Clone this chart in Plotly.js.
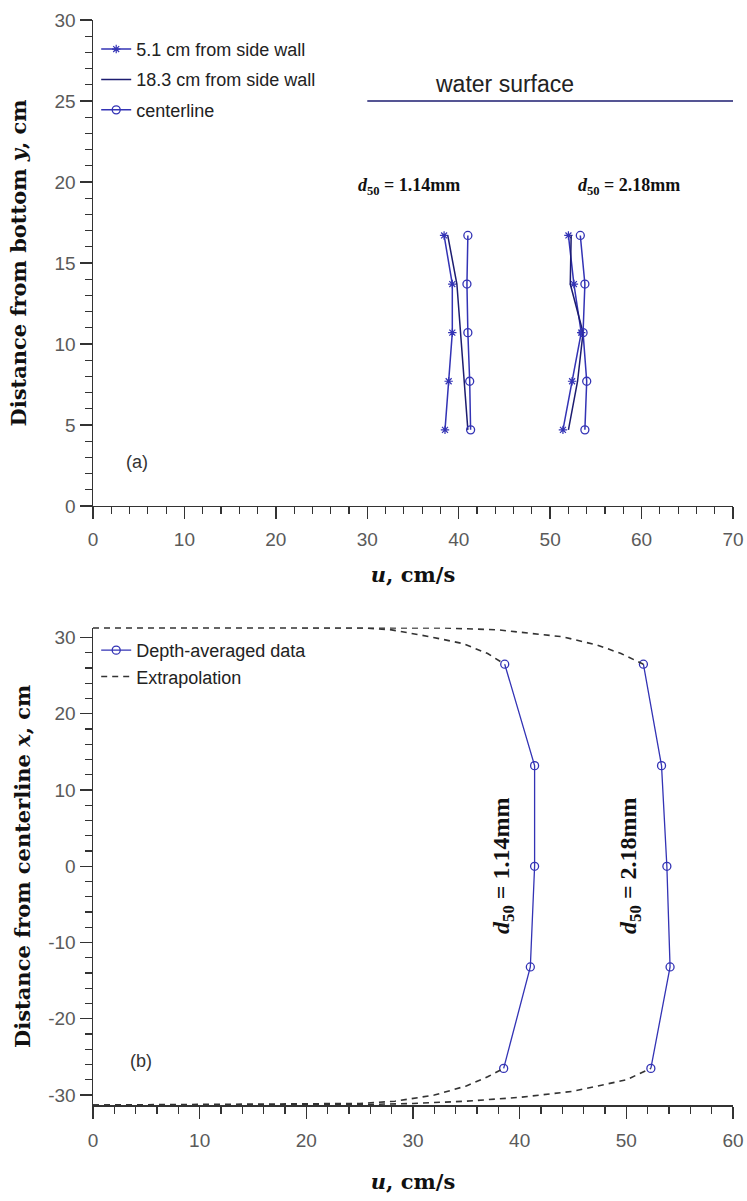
<!DOCTYPE html>
<html>
<head>
<meta charset="utf-8">
<script src="https://cdn.plot.ly/plotly-3.0.1.min.js"></script>
<style>html,body{margin:0;padding:0;background:#fff;}#chart{width:747px;height:1201px;}</style>
</head>
<body>
<div id="chart"></div>
<script>
// ---------- Panel (a): velocity profiles ----------
const depthY = [4.7, 7.7, 10.7, 13.7, 16.7];
// d50 = 1.14 mm
const u114_wall51 = [38.5, 38.9, 39.3, 39.3, 38.4];
const u114_wall183 = [41.0, 40.6, 40.2, 39.8, 38.8];
const u114_center = [41.3, 41.2, 41.0, 40.9, 41.0];
// d50 = 2.18 mm
const u218_wall51 = [51.4, 52.4, 53.4, 52.6, 52.0];
const u218_wall183 = [52.0, 53.0, 53.6, 52.2, 52.3];
const u218_center = [53.8, 54.0, 53.6, 53.8, 53.3];
const waterSurfaceY = 25;
const waterSurfaceX = [30, 70];

// ---------- Panel (b): lateral distribution ----------
const lateralX = [26.5, 13.2, 0, -13.2, -26.5];
const uAvg114 = [38.6, 41.4, 41.4, 41.0, 38.5];
const uAvg218 = [51.6, 53.3, 53.8, 54.1, 52.3];
// extrapolation curves (u, x)
const ext114TopU = [0, 25, 28, 31.6, 34.7, 37.0, 38.6];
const ext114TopX = [31.3, 31.3, 31.0, 30.1, 29.2, 27.9, 26.5];
const ext114BotU = [0, 25, 28.3, 32, 35, 37, 38.5];
const ext114BotX = [-31.3, -31.1, -30.8, -30.0, -28.8, -27.6, -26.5];
const ext218TopU = [0, 25, 33, 38, 44, 47.3, 49.5, 51.6];
const ext218TopX = [31.3, 31.3, 31.25, 31.0, 30.1, 29.0, 27.9, 26.5];
const ext218BotU = [0, 25, 30, 35, 40, 45, 50, 52.3];
const ext218BotX = [-31.3, -31.25, -31.1, -30.8, -30.3, -29.5, -28.0, -26.5];

// tick labels
const yTicksA = [0, 5, 10, 15, 20, 25, 30];
const yTicksB = [-30, -20, -10, 0, 10, 20, 30];
const yTickTextB = ['-30', '-20', '-10', '0', '10', '20', '30'];

const blue = '#3333b5';
const tickFont = {family: 'Liberation Sans, Arial, sans-serif', size: 19, color: '#5a5a5a'};
const titleFont = {family: 'DejaVu Serif, Liberation Serif, serif', size: 21, color: '#111', weight: 'bold'};
const annFont = {family: 'Liberation Serif, DejaVu Serif, serif', size: 18, color: '#111', weight: 'bold'};
const annFontRot = {family: 'Liberation Serif, DejaVu Serif, serif', size: 24, color: '#111', weight: 'bold'};
const legFont = {family: 'Liberation Sans, Arial, sans-serif', size: 18, color: '#222'};

function star(x, y, show) {
  return {x: x, y: y, xaxis: 'x', yaxis: 'y', type: 'scatter', mode: 'lines+markers',
    name: '5.1 cm from side wall', legendgroup: 'a1', showlegend: show, legend: 'legend',
    line: {color: blue, width: 1.5}, marker: {symbol: 'asterisk-open', size: 7, color: blue, line: {color: blue, width: 1.2}}};
}
function plain(x, y, show) {
  return {x: x, y: y, xaxis: 'x', yaxis: 'y', type: 'scatter', mode: 'lines',
    name: '18.3 cm from side wall', legendgroup: 'a2', showlegend: show, legend: 'legend',
    line: {color: '#1c1c70', width: 1.5}};
}
function circ(x, y, show) {
  return {x: x, y: y, xaxis: 'x', yaxis: 'y', type: 'scatter', mode: 'lines+markers',
    name: 'centerline', legendgroup: 'a3', showlegend: show, legend: 'legend',
    line: {color: blue, width: 1.5}, marker: {symbol: 'circle-open', size: 8, color: blue, line: {color: blue, width: 1.3}}};
}
function avg(x, y, show) {
  return {x: x, y: y, xaxis: 'x2', yaxis: 'y2', type: 'scatter', mode: 'lines+markers',
    name: 'Depth-averaged data', legendgroup: 'b1', showlegend: show, legend: 'legend2',
    line: {color: blue, width: 1.3}, marker: {symbol: 'circle-open', size: 8, color: blue, line: {color: blue, width: 1.3}}};
}
function ext(x, y, show) {
  return {x: x, y: y, xaxis: 'x2', yaxis: 'y2', type: 'scatter', mode: 'lines',
    name: 'Extrapolation', legendgroup: 'b2', showlegend: show, legend: 'legend2',
    line: {color: '#333', width: 1.6, dash: '6px,5px'}};
}

const data = [
  star(u114_wall51, depthY, true), plain(u114_wall183, depthY, true), circ(u114_center, depthY, true),
  star(u218_wall51, depthY, false), plain(u218_wall183, depthY, false), circ(u218_center, depthY, false),
  {x: waterSurfaceX, y: [waterSurfaceY, waterSurfaceY], xaxis: 'x', yaxis: 'y', mode: 'lines', showlegend: false,
   line: {color: '#1c1c70', width: 1.5}},
  avg(uAvg114, lateralX, true), avg(uAvg218, lateralX, false),
  ext(ext114TopU, ext114TopX, true), ext(ext114BotU, ext114BotX, false),
  ext(ext218TopU, ext218TopX, false), ext(ext218BotU, ext218BotX, false)
];

const minorSpec = (d) => ({dtick: d, ticklen: 7, ticks: 'outside', tickcolor: '#333', tickwidth: 1.2});
const axBase = {
  showgrid: false, zeroline: false, showline: true, linecolor: '#333', linewidth: 1.5,
  ticks: 'outside', ticklen: 12, tickwidth: 1.3, tickcolor: '#333', tickfont: tickFont, mirror: false
};

const layout = {
  width: 747, height: 1201,
  margin: {l: 93, r: 14, t: 20, b: 96},
  paper_bgcolor: '#fff', plot_bgcolor: '#fff',
  showlegend: true,
  xaxis: Object.assign({}, axBase, {anchor: 'y', range: [0, 70], dtick: 10, tick0: 0, minor: minorSpec(2),
    ticklabelstandoff: 4,
    title: {text: '<i>u</i>, cm/s', font: titleFont, standoff: 18}}),
  yaxis: Object.assign({}, axBase, {domain: [0.5521, 1], anchor: 'x', range: [0, 30], tickvals: yTicksA, minor: minorSpec(1),
    title: {text: 'Distance from bottom <i>y</i>, cm', font: titleFont, standoff: 22}}),
  xaxis2: Object.assign({}, axBase, {anchor: 'y2', range: [0, 60], dtick: 10, tick0: 0, minor: minorSpec(2),
    ticklabelstandoff: 6,
    title: {text: '<i>u</i>, cm/s', font: titleFont, standoff: 24}}),
  yaxis2: Object.assign({}, axBase, {domain: [0, 0.440], anchor: 'x2', range: [-31.3, 31.3],
    tickvals: yTicksB, ticktext: yTickTextB, minor: minorSpec(2),
    title: {text: 'Distance from centerline <i>x</i>, cm', font: titleFont, standoff: 12}}),
  legend: {x: 0.005, y: 0.99, xref: 'paper', yref: 'paper', xanchor: 'left', yanchor: 'top',
    bgcolor: 'rgba(0,0,0,0)', font: legFont, itemwidth: 30, tracegroupgap: 4},
  legend2: {x: 0.005, y: 0.436, xref: 'paper', yref: 'paper', xanchor: 'left', yanchor: 'top',
    bgcolor: 'rgba(0,0,0,0)', font: legFont, itemwidth: 30, tracegroupgap: 0},
  annotations: [
    {xref: 'x', yref: 'y', x: 45, y: 25.1, yanchor: 'bottom', text: 'water surface', showarrow: false,
     font: {family: 'Liberation Sans, Arial, sans-serif', size: 23, color: '#222'}},
    {xref: 'x', yref: 'y', x: 34.6, y: 19.7, text: '<i>d</i><sub>50</sub> = 1.14mm', showarrow: false, font: annFont},
    {xref: 'x', yref: 'y', x: 58.6, y: 19.7, text: '<i>d</i><sub>50</sub> = 2.18mm', showarrow: false, font: annFont},
    {xref: 'x', yref: 'y', x: 4.8, y: 2.7, text: '(a)', showarrow: false, font: {family: 'Liberation Sans, Arial, sans-serif', size: 18, color: '#333'}},
    {xref: 'x2', yref: 'y2', x: 38.5, y: 0, text: '<i>d</i><sub>50</sub> = 1.14mm', textangle: -90, showarrow: false, font: annFontRot},
    {xref: 'x2', yref: 'y2', x: 50.4, y: 0, text: '<i>d</i><sub>50</sub> = 2.18mm', textangle: -90, showarrow: false, font: annFontRot},
    {xref: 'x2', yref: 'y2', x: 4.5, y: -25.5, text: '(b)', showarrow: false, font: {family: 'Liberation Sans, Arial, sans-serif', size: 18, color: '#333'}}
  ]
};

Plotly.newPlot('chart', data, layout, {displayModeBar: false, staticPlot: true});
</script>
</body>
</html>
